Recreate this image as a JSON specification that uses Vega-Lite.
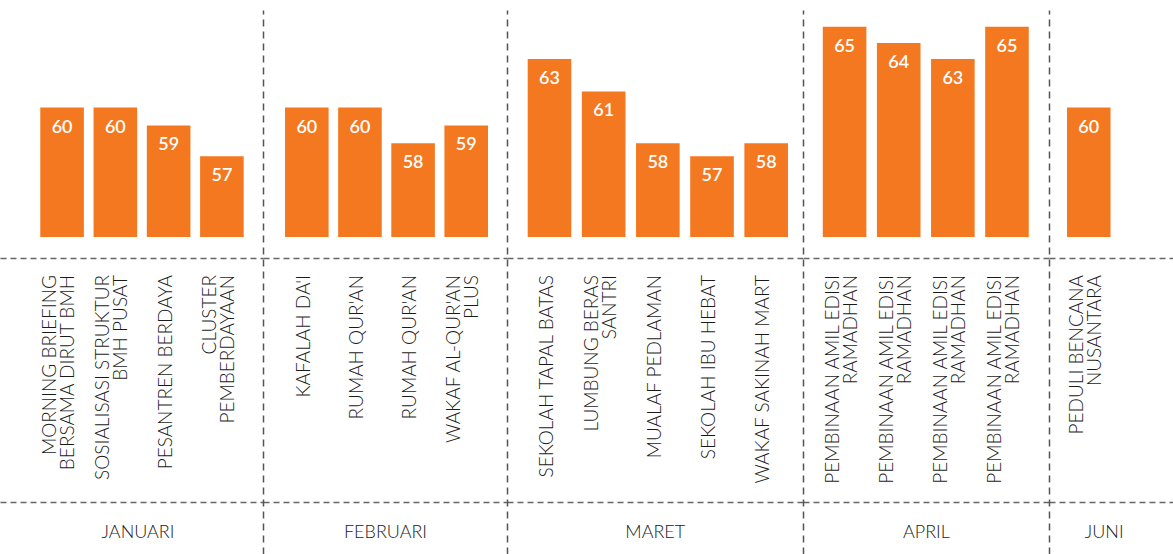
{
  "$schema": "https://vega.github.io/schema/vega-lite/v6.json",
  "padding": {"top": 10, "left": 0, "right": 0, "bottom": 0},
  "spacing": 0,
  "bounds": "flush",
  "config": {
    "view": {"stroke": null},
    "concat": {"spacing": 0},
    "axis": {"labelFont": "Lato", "titleFont": "Lato"}
  },
  "datasets": {
    "items": [
      {"month": "JANUARI", "id": "jan1", "label": "MORNING BRIEFING\nBERSAMA DIRUT BMH", "value": 60},
      {"month": "JANUARI", "id": "jan2", "label": "SOSIALISASI STRUKTUR\nBMH PUSAT", "value": 60},
      {"month": "JANUARI", "id": "jan3", "label": "PESANTREN BERDAYA", "value": 58.9},
      {"month": "JANUARI", "id": "jan4", "label": "CLUSTER\nPEMBERDAYAAN", "value": 57},
      {"month": "FEBRUARI", "id": "feb1", "label": "KAFALAH DA'I", "value": 60},
      {"month": "FEBRUARI", "id": "feb2", "label": "RUMAH QUR'AN", "value": 60},
      {"month": "FEBRUARI", "id": "feb3", "label": "RUMAH QUR'AN", "value": 57.8},
      {"month": "FEBRUARI", "id": "feb4", "label": "WAKAF AL-QUR'AN\nPLUS", "value": 58.9},
      {"month": "MARET", "id": "mar1", "label": "SEKOLAH TAPAL BATAS", "value": 63},
      {"month": "MARET", "id": "mar2", "label": "LUMBUNG BERAS\nSANTRI", "value": 61},
      {"month": "MARET", "id": "mar3", "label": "MUALAF PEDLAMAN", "value": 57.8},
      {"month": "MARET", "id": "mar4", "label": "SEKOLAH IBU HEBAT", "value": 57},
      {"month": "MARET", "id": "mar5", "label": "WAKAF SAKINAH MART", "value": 57.8},
      {"month": "APRIL", "id": "apr1", "label": "PEMBINAAN AMIL EDISI\nRAMADHAN", "value": 65},
      {"month": "APRIL", "id": "apr2", "label": "PEMBINAAN AMIL EDISI\nRAMADHAN", "value": 64},
      {"month": "APRIL", "id": "apr3", "label": "PEMBINAAN AMIL EDISI\nRAMADHAN", "value": 63},
      {"month": "APRIL", "id": "apr4", "label": "PEMBINAAN AMIL EDISI\nRAMADHAN", "value": 65},
      {"month": "JUNI", "id": "jun1", "label": "PEDULI BENCANA\nNUSANTARA", "value": 60}
    ]
  },
  "hconcat": [
    {
      "width": 263, "height": 544,
      "data": {"name": "items"},
      "transform": [{"filter": "datum.month === 'JANUARI'"}],
      "encoding": {
        "x": {"field": "id", "type": "nominal", "sort": null,
              "scale": {"paddingInner": 0.1815, "paddingOuter": 0.5593, "align": 0.676, "round": false},
              "axis": {"title": "JANUARI", "labels": false, "ticks": false, "domain": false, "titleY": -16.7, "titleX": 137.5, "titleBaseline": "alphabetic", "titleFontSize": 18, "titleFontWeight": 300, "titleColor": "#1a1a1a"}},
        "y": {"field": "value", "type": "quantitative", "title": null,
              "scale": {"domain": [32.402, 66.034], "nice": false, "zero": false},
              "axis": {"values": [35.617, 50.702], "labels": false, "ticks": false, "domain": false, "grid": true, "gridDash": [6, 4], "gridColor": "#666666", "gridWidth": 1.5, "gridOpacity": 1}}
      },
      "layer": [
        {"mark": {"type": "bar", "color": "#F47820"}, "encoding": {"y2": {"datum": 52}}},
        {"mark": {"type": "text", "color": "white", "font": "Lato", "fontWeight": 600, "fontSize": 18, "baseline": "alphabetic", "dy": 25}, "encoding": {"text": {"field": "value", "format": ".0f"}}},
        {"transform": [{"filter": "indexof(datum.label, '\\n') < 0"}], "mark": {"type": "text", "angle": 270, "align": "right", "baseline": "middle", "lineBreak": "\n", "lineHeight": 18, "dy": -3, "font": "Lato", "fontWeight": 300, "fontSize": 19, "color": "#1a1a1a"}, "encoding": {"y": {"datum": 49.65, "type": "quantitative", "title": null}, "text": {"field": "label"}}},
        {"transform": [{"filter": "indexof(datum.label, '\\n') >= 0"}], "mark": {"type": "text", "angle": 270, "align": "right", "baseline": "middle", "lineBreak": "\n", "lineHeight": 18, "dy": -12, "font": "Lato", "fontWeight": 300, "fontSize": 19, "color": "#1a1a1a"}, "encoding": {"y": {"datum": 49.65, "type": "quantitative", "title": null}, "text": {"field": "label"}}}
      ]
    },
    {
      "width": 244, "height": 544,
      "data": {"name": "items"},
      "transform": [{"filter": "datum.month === 'FEBRUARI'"}],
      "encoding": {
        "x": {"field": "id", "type": "nominal", "sort": null,
              "scale": {"paddingInner": 0.1794, "paddingOuter": 0.386, "align": 0.537, "round": false},
              "axis": {"title": "FEBRUARI", "labels": false, "ticks": false, "domain": false, "titleY": -16.7, "titleBaseline": "alphabetic", "titleFontSize": 18, "titleFontWeight": 300, "titleColor": "#1a1a1a"}},
        "y": {"field": "value", "type": "quantitative", "title": null,
              "scale": {"domain": [32.402, 66.034], "nice": false, "zero": false},
              "axis": {"values": [35.617, 50.702], "labels": false, "ticks": false, "domain": true, "domainDash": [7, 5], "domainColor": "#555555", "domainWidth": 1.5, "grid": true, "gridDash": [6, 4], "gridColor": "#666666", "gridWidth": 1.5, "gridOpacity": 1}}
      },
      "layer": [
        {"mark": {"type": "bar", "color": "#F47820"}, "encoding": {"y2": {"datum": 52}}},
        {"mark": {"type": "text", "color": "white", "font": "Lato", "fontWeight": 600, "fontSize": 18, "baseline": "alphabetic", "dy": 25}, "encoding": {"text": {"field": "value", "format": ".0f"}}},
        {"transform": [{"filter": "indexof(datum.label, '\\n') < 0"}], "mark": {"type": "text", "angle": 270, "align": "right", "baseline": "middle", "lineBreak": "\n", "lineHeight": 18, "dy": -3, "font": "Lato", "fontWeight": 300, "fontSize": 19, "color": "#1a1a1a"}, "encoding": {"y": {"datum": 49.65, "type": "quantitative", "title": null}, "text": {"field": "label"}}},
        {"transform": [{"filter": "indexof(datum.label, '\\n') >= 0"}], "mark": {"type": "text", "angle": 270, "align": "right", "baseline": "middle", "lineBreak": "\n", "lineHeight": 18, "dy": -12, "font": "Lato", "fontWeight": 300, "fontSize": 19, "color": "#1a1a1a"}, "encoding": {"y": {"datum": 49.65, "type": "quantitative", "title": null}, "text": {"field": "label"}}}
      ]
    },
    {
      "width": 295.5, "height": 544,
      "data": {"name": "items"},
      "transform": [{"filter": "datum.month === 'MARET'"}],
      "encoding": {
        "x": {"field": "id", "type": "nominal", "sort": null,
              "scale": {"paddingInner": 0.1952, "paddingOuter": 0.325, "align": 0.588, "round": false},
              "axis": {"title": "MARET", "labels": false, "ticks": false, "domain": false, "titleY": -16.7, "titleBaseline": "alphabetic", "titleFontSize": 18, "titleFontWeight": 300, "titleColor": "#1a1a1a"}},
        "y": {"field": "value", "type": "quantitative", "title": null,
              "scale": {"domain": [32.402, 66.034], "nice": false, "zero": false},
              "axis": {"values": [35.617, 50.702], "labels": false, "ticks": false, "domain": true, "domainDash": [7, 5], "domainColor": "#555555", "domainWidth": 1.5, "grid": true, "gridDash": [6, 4], "gridColor": "#666666", "gridWidth": 1.5, "gridOpacity": 1}}
      },
      "layer": [
        {"mark": {"type": "bar", "color": "#F47820"}, "encoding": {"y2": {"datum": 52}}},
        {"mark": {"type": "text", "color": "white", "font": "Lato", "fontWeight": 600, "fontSize": 18, "baseline": "alphabetic", "dy": 25}, "encoding": {"text": {"field": "value", "format": ".0f"}}},
        {"transform": [{"filter": "indexof(datum.label, '\\n') < 0"}], "mark": {"type": "text", "angle": 270, "align": "right", "baseline": "middle", "lineBreak": "\n", "lineHeight": 18, "dy": -3, "font": "Lato", "fontWeight": 300, "fontSize": 19, "color": "#1a1a1a"}, "encoding": {"y": {"datum": 49.65, "type": "quantitative", "title": null}, "text": {"field": "label"}}},
        {"transform": [{"filter": "indexof(datum.label, '\\n') >= 0"}], "mark": {"type": "text", "angle": 270, "align": "right", "baseline": "middle", "lineBreak": "\n", "lineHeight": 18, "dy": -12, "font": "Lato", "fontWeight": 300, "fontSize": 19, "color": "#1a1a1a"}, "encoding": {"y": {"datum": 49.65, "type": "quantitative", "title": null}, "text": {"field": "label"}}}
      ]
    },
    {
      "width": 245.8, "height": 544,
      "data": {"name": "items"},
      "transform": [{"filter": "datum.month === 'APRIL'"}],
      "encoding": {
        "x": {"field": "id", "type": "nominal", "sort": null,
              "scale": {"paddingInner": 0.1946, "paddingOuter": 0.3678, "align": 0.497, "round": false},
              "axis": {"title": "APRIL", "labels": false, "ticks": false, "domain": false, "titleY": -16.7, "titleBaseline": "alphabetic", "titleFontSize": 18, "titleFontWeight": 300, "titleColor": "#1a1a1a"}},
        "y": {"field": "value", "type": "quantitative", "title": null,
              "scale": {"domain": [32.402, 66.034], "nice": false, "zero": false},
              "axis": {"values": [35.617, 50.702], "labels": false, "ticks": false, "domain": true, "domainDash": [7, 5], "domainColor": "#555555", "domainWidth": 1.5, "grid": true, "gridDash": [6, 4], "gridColor": "#666666", "gridWidth": 1.5, "gridOpacity": 1}}
      },
      "layer": [
        {"mark": {"type": "bar", "color": "#F47820"}, "encoding": {"y2": {"datum": 52}}},
        {"mark": {"type": "text", "color": "white", "font": "Lato", "fontWeight": 600, "fontSize": 18, "baseline": "alphabetic", "dy": 25}, "encoding": {"text": {"field": "value", "format": ".0f"}}},
        {"transform": [{"filter": "indexof(datum.label, '\\n') < 0"}], "mark": {"type": "text", "angle": 270, "align": "right", "baseline": "middle", "lineBreak": "\n", "lineHeight": 18, "dy": -3, "font": "Lato", "fontWeight": 300, "fontSize": 19, "color": "#1a1a1a"}, "encoding": {"y": {"datum": 49.65, "type": "quantitative", "title": null}, "text": {"field": "label"}}},
        {"transform": [{"filter": "indexof(datum.label, '\\n') >= 0"}], "mark": {"type": "text", "angle": 270, "align": "right", "baseline": "middle", "lineBreak": "\n", "lineHeight": 18, "dy": -12, "font": "Lato", "fontWeight": 300, "fontSize": 19, "color": "#1a1a1a"}, "encoding": {"y": {"datum": 49.65, "type": "quantitative", "title": null}, "text": {"field": "label"}}}
      ]
    },
    {
      "width": 124.7, "height": 544,
      "data": {"name": "items"},
      "transform": [{"filter": "datum.month === 'JUNI'"}],
      "encoding": {
        "x": {"field": "id", "type": "nominal", "sort": null,
              "scale": {"paddingInner": 0.1944, "paddingOuter": 0.752, "align": 0.222, "round": false},
              "axis": {"title": "JUNI", "labels": false, "ticks": false, "domain": false, "titleY": -16.7, "titleX": 54.7, "titleBaseline": "alphabetic", "titleFontSize": 18, "titleFontWeight": 300, "titleColor": "#1a1a1a"}},
        "y": {"field": "value", "type": "quantitative", "title": null,
              "scale": {"domain": [32.402, 66.034], "nice": false, "zero": false},
              "axis": {"values": [35.617, 50.702], "labels": false, "ticks": false, "domain": true, "domainDash": [7, 5], "domainColor": "#555555", "domainWidth": 1.5, "grid": true, "gridDash": [6, 4], "gridColor": "#666666", "gridWidth": 1.5, "gridOpacity": 1}}
      },
      "layer": [
        {"mark": {"type": "bar", "color": "#F47820"}, "encoding": {"y2": {"datum": 52}}},
        {"mark": {"type": "text", "color": "white", "font": "Lato", "fontWeight": 600, "fontSize": 18, "baseline": "alphabetic", "dy": 25}, "encoding": {"text": {"field": "value", "format": ".0f"}}},
        {"transform": [{"filter": "indexof(datum.label, '\\n') < 0"}], "mark": {"type": "text", "angle": 270, "align": "right", "baseline": "middle", "lineBreak": "\n", "lineHeight": 18, "dy": -3, "font": "Lato", "fontWeight": 300, "fontSize": 19, "color": "#1a1a1a"}, "encoding": {"y": {"datum": 49.65, "type": "quantitative", "title": null}, "text": {"field": "label"}}},
        {"transform": [{"filter": "indexof(datum.label, '\\n') >= 0"}], "mark": {"type": "text", "angle": 270, "align": "right", "baseline": "middle", "lineBreak": "\n", "lineHeight": 18, "dy": -12, "font": "Lato", "fontWeight": 300, "fontSize": 19, "color": "#1a1a1a"}, "encoding": {"y": {"datum": 49.65, "type": "quantitative", "title": null}, "text": {"field": "label"}}}
      ]
    }
  ]
}
